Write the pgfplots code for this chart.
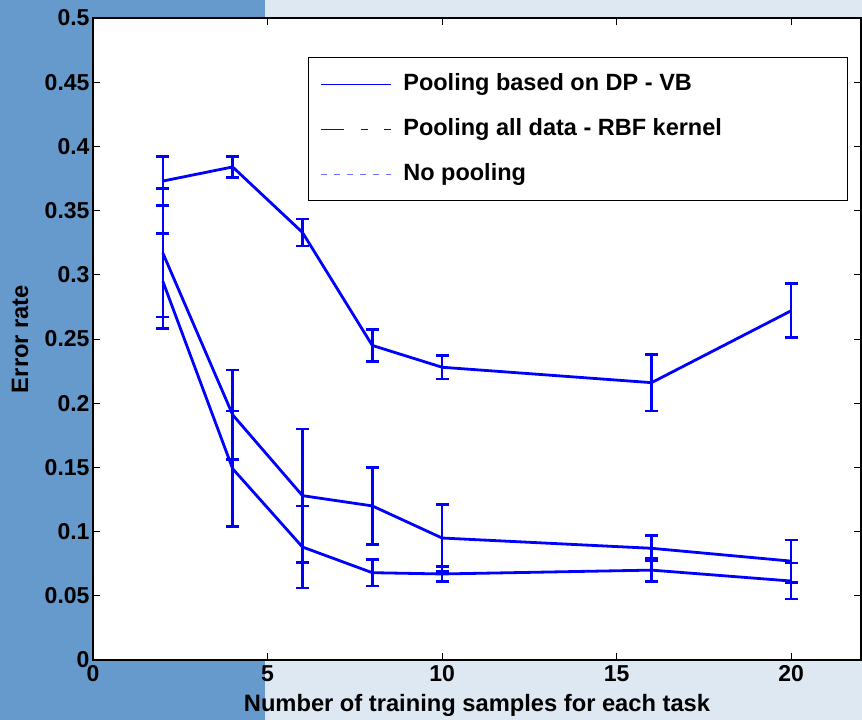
\documentclass[border=0pt]{standalone}
\usepackage{fontspec}
\setmainfont{Liberation Sans}
\usepackage{pgfplots}
\pgfplotsset{compat=1.18}
\definecolor{bgblue}{RGB}{102,153,204}
\definecolor{bglight}{RGB}{222,232,243}
\definecolor{mblue}{RGB}{0,0,255}
\definecolor{lblue}{RGB}{110,110,255}
\newcommand{\bigf}{\fontsize{23bp}{27bp}\selectfont\bfseries}
\newcommand{\labf}{\fontsize{23.7bp}{28bp}\selectfont\bfseries}
\newcommand{\legf}{\fontsize{23.5bp}{28bp}\selectfont\bfseries}
\begin{document}
\begin{tikzpicture}
\useasboundingbox (0bp,0bp) rectangle (862bp,720bp);
\fill[bglight] (0bp,0bp) rectangle (862bp,720bp);
\fill[bgblue] (0bp,0bp) rectangle (265bp,720bp);
\begin{axis}[
  at={(93bp,60bp)}, anchor=south west,
  scale only axis, width=768bp, height=642bp,
  xmin=0, xmax=22, ymin=0, ymax=0.5,
  axis background/.style={fill=white},
  axis line style={line width=1.4bp, black},
  xtick={0,5,10,15,20},
  ytick={0,0.05,0.1,0.15,0.2,0.25,0.3,0.35,0.4,0.45,0.5},
  scaled y ticks=false,
  yticklabel style={/pgf/number format/fixed, /pgf/number format/precision=2},
  tick align=inside,
  major tick length=7bp,
  tick style={line width=0.8bp, black},
  tick label style={font=\bigf},
  /pgf/number format/assume math mode=true,
  xticklabel style={yshift=-2bp},
  xlabel={Number of training samples for each task},
  ylabel={Error rate},
  xlabel style={font=\labf, at={(axis description cs:0.5,0)}, anchor=center, yshift=-45bp},
  ylabel style={font=\labf, at={(axis description cs:-0.095,0.5)}, anchor=center},
  legend image code/.code={\draw[#1] (0bp,0bp) -- (70bp,0bp);},
  legend cell align=left,
  legend style={at={(0.2796,0.939)}, anchor=north west, draw=black, line width=1.2bp,
    fill=white, font=\legf, inner xsep=12bp, inner ysep=13.5bp, row sep=19bp,
    nodes={text height=17bp, text depth=5bp, inner sep=2bp},
    /tikz/every odd column/.append style={column sep=10bp}},
  error bars/error bar style={line width=2.6bp, mblue},
  error bars/error mark options={rotate=90, mark size=6.5bp, line width=2.6bp, mblue},
]
\addlegendimage{mblue, line width=1bp}
\addlegendentry{\makebox[430bp][l]{Pooling based on DP - VB}}
\addlegendimage{mblue, line width=1bp, dash pattern=on 23bp off 17bp on 7bp off 16bp on 7bp}
\addlegendentry{\makebox[430bp][l]{Pooling all data - RBF kernel}}
\addlegendimage{lblue, line width=1bp, dash pattern=on 6bp off 7bp}
\addlegendentry{\makebox[430bp][l]{No pooling}}

\addplot[forget plot, mblue, line width=2.8bp, error bars/.cd, y dir=both, y explicit] coordinates {
 (2,0.373) +- (0,0.019)
 (4,0.384) +- (0,0.008)
 (6,0.333) +- (0,0.0105)
 (8,0.245) +- (0,0.0125)
 (10,0.228) +- (0,0.009)
 (16,0.216) +- (0,0.022)
 (20,0.272) +- (0,0.021)
};
\addplot[forget plot, mblue, line width=2.8bp, error bars/.cd, y dir=both, y explicit] coordinates {
 (2,0.317) +- (0,0.050)
 (4,0.191) +- (0,0.035)
 (6,0.128) +- (0,0.052)
 (8,0.120) +- (0,0.030)
 (10,0.095) +- (0,0.026)
 (16,0.087) +- (0,0.010)
 (20,0.077) +- (0,0.0165)
};
\addplot[forget plot, mblue, line width=2.8bp, error bars/.cd, y dir=both, y explicit] coordinates {
 (2,0.295) +- (0,0.037)
 (4,0.149) +- (0,0.045)
 (6,0.088) +- (0,0.032)
 (8,0.068) +- (0,0.0105)
 (10,0.067) +- (0,0.006)
 (16,0.070) +- (0,0.009)
 (20,0.0615) +- (0,0.014)
};
\end{axis}
\end{tikzpicture}
\end{document}
